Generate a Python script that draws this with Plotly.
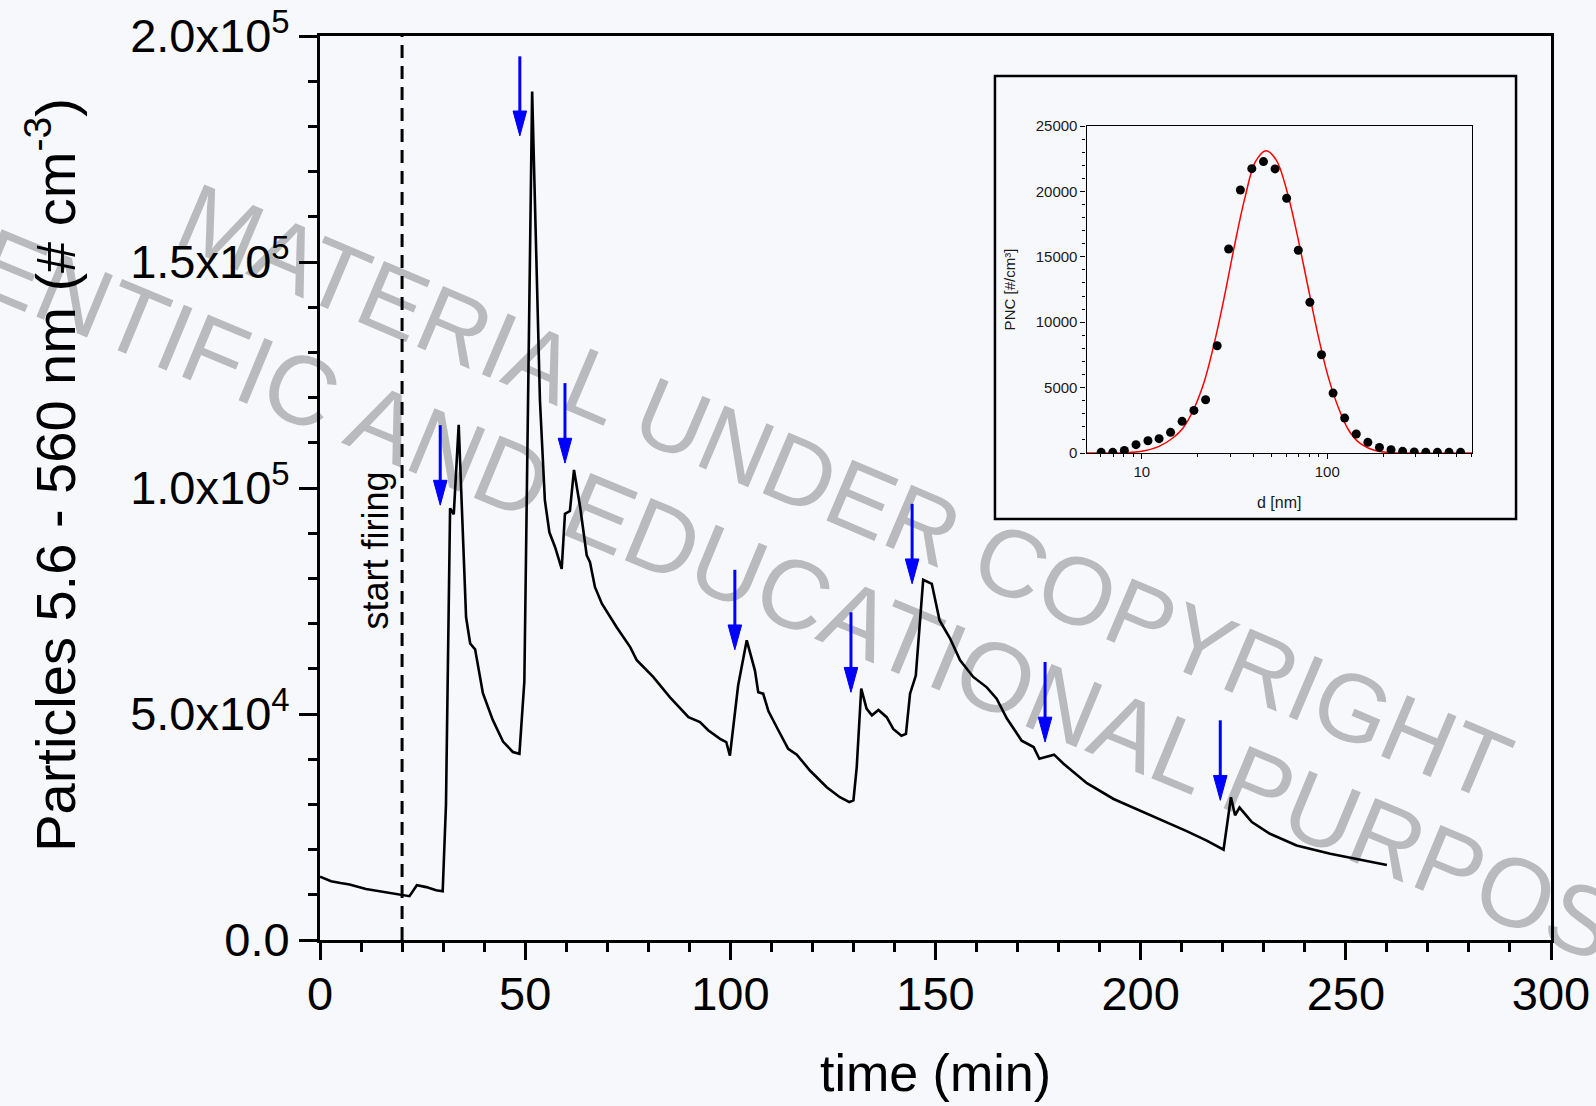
import plotly.graph_objects as go

# ---------------- data: main time series ----------------
time_min = [0, 2.7, 5, 7.2, 11.2, 15.3, 19.3, 21.8, 23.6, 25.9, 28.3, 29.9,
            30.7, 31.7, 32.6, 33.8, 35.6, 36.6, 37.8, 39.7, 42.1, 44.6, 47.0, 48.6,
            49.8, 51.7, 53.6, 54.8, 55.9, 57.3, 58.9, 59.7, 60.9, 61.9, 63.4, 65.0,
            65.8, 67.0, 68.7, 72.3, 75.6, 77.2, 81.2, 85.3, 89.8, 92.6, 94.6, 97.5,
            99.0, 99.9, 101.9, 104.0, 106.0, 106.8, 108.0, 109.3, 111.7, 114.1, 116.2,
            119.4, 123.5, 126.7, 129.0, 130.0, 130.8, 131.9, 133.2, 134.5, 136.1, 138.1,
            139.7, 141.7, 142.8, 143.8, 145.2, 147.0, 149.1, 151.0, 153.5, 156.0, 159.2,
            162.5, 164.9, 167.4, 171.0, 173.9, 175.3, 177.1, 178.9, 181.2, 186.9, 193.4,
            199.0, 205.5, 211.2, 216.1, 220.2, 222.0, 223.0, 224.1, 227.1, 231.5, 238.0,
            246.2, 254.3, 260.0]
particles = [14000, 13000, 12600, 12300, 11300, 10650, 10000, 9700, 12100, 11700, 11000, 10800,
             29900, 95500, 94200, 114000, 71400, 65600, 64300, 54600, 48700, 43900, 41600, 41200,
             57200, 187700, 119400, 97300, 90200, 86900, 82100, 94300, 94900, 104000, 95800, 85100,
             83600, 78100, 74400, 69200, 64800, 61900, 58200, 53700, 49300, 48200, 46400, 44500,
             43800, 40800, 56300, 66300, 59600, 54800, 54500, 50600, 46400, 42300, 41000,
             37500, 33800, 31600, 30500, 30900, 38200, 55600, 51200, 49700, 50900, 49300,
             46700, 45200, 45600, 54500, 58500, 79700, 78800, 70700, 66800, 61900, 58200,
             55900, 53400, 49000, 44100, 42700, 40100, 40500, 41000, 39000, 34700, 31200,
             29000, 26400, 24100, 22000, 20000, 31600, 27600, 29300, 26100, 23500, 20900,
             19100, 17600, 16600]

# blue arrows marking firing events
arrow_time = [29.3, 48.7, 59.7, 101.1, 129.4, 144.3, 176.7, 219.4]
arrow_top = [113900, 195500, 123200, 81900, 72500, 96500, 61500, 48600]
arrow_tip = [96200, 177900, 105500, 64200, 54800, 78800, 43800, 30900]

start_firing_time = 20

x_tick_vals = [0, 50, 100, 150, 200, 250, 300]
y_tick_vals = [0, 50000, 100000, 150000, 200000]
y_tick_text = ["0.0", "5.0x10<sup>4</sup>", "1.0x10<sup>5</sup>",
               "1.5x10<sup>5</sup>", "2.0x10<sup>5</sup>"]

# ---------------- data: inset size distribution ----------------
inset_d = [6.04, 6.98, 8.06, 9.31, 10.8, 12.4, 14.3, 16.5, 19.1, 22.1, 25.5, 29.4,
           34.0, 39.2, 45.3, 52.3, 60.4, 69.8, 80.6, 93.1, 107.5, 124.1, 143.3, 165.5,
           191.1, 220.7, 254.8, 294.3, 339.8, 392.4, 453.2, 523.3]
inset_pnc = [50, 50, 200, 640, 940, 1100, 1580, 2420, 3260, 4070, 8200, 15600,
             20110, 21740, 22280, 21720, 19480, 15500, 11530, 7510, 4580, 2670, 1450, 815,
             430, 250, 130, 80, 50, 50, 50, 50]
fit_d = [5.04, 8.0, 10.0, 12.4, 14.7, 16.7, 19.0, 21.6, 24.6, 27.9, 31.8, 36.1,
         41.0, 46.7, 53.1, 60.4, 68.6, 78.0, 88.7, 101, 115, 130, 148, 176,
         209, 259, 603]
fit_pnc = [0, 20, 130, 510, 1150, 1910, 3310, 5350, 8400, 11970, 16040, 19600,
           22280, 23120, 22400, 20110, 16800, 12980, 9170, 5860, 3440, 1780, 815, 250,
           50, 0, 0]

FONT = "Liberation Sans, Arial, sans-serif"
BG = "#f7f8fc"

fig = go.Figure()

# main curve
fig.add_trace(go.Scatter(x=time_min, y=particles, mode="lines",
                         line=dict(color="black", width=2.6), showlegend=False,
                         hoverinfo="skip"))

# arrows: shafts and heads built from the arrow arrays
head_len = 5500      # in y-data units
head_half = 1.65     # in x-data units
shaft_x, shaft_y, head_x, head_y = [], [], [], []
for t, top, tip in zip(arrow_time, arrow_top, arrow_tip):
    shaft_x += [t, t, None]
    shaft_y += [top, tip + head_len * 0.6, None]
    head_x += [t - head_half, t + head_half, t, t - head_half, None]
    head_y += [tip + head_len, tip + head_len, tip, tip + head_len, None]
fig.add_trace(go.Scatter(x=shaft_x, y=shaft_y, mode="lines",
                         line=dict(color="#0000ff", width=3), showlegend=False,
                         hoverinfo="skip"))
fig.add_trace(go.Scatter(x=head_x, y=head_y, mode="lines", fill="toself",
                         fillcolor="#0000ff", line=dict(color="#0000ff", width=1),
                         showlegend=False, hoverinfo="skip"))

# inset traces
fig.add_trace(go.Scatter(x=fit_d, y=fit_pnc, mode="lines", xaxis="x2", yaxis="y2",
                         line=dict(color="#ff0000", width=1.5, shape="spline", smoothing=1.0),
                         showlegend=False, hoverinfo="skip"))
fig.add_trace(go.Scatter(x=inset_d, y=inset_pnc, mode="markers", xaxis="x2", yaxis="y2",
                         marker=dict(color="black", size=9, symbol="circle"),
                         showlegend=False, hoverinfo="skip"))

# start firing dashed line
fig.add_shape(type="line", xref="x", yref="paper", x0=start_firing_time, x1=start_firing_time,
              y0=0, y1=1, line=dict(color="black", width=3, dash="13px,8px"), layer="above")

fig.add_annotation(x=start_firing_time, xref="x", y=0.431, yref="paper",
                   text="start firing", textangle=-90, showarrow=False, xshift=-27,
                   font=dict(family=FONT, size=36, color="black"))

# y-axis title
fig.add_annotation(x=-0.2177, xref="paper", y=0.5146, yref="paper",
                   text="Particles 5.6 - 560 nm (# cm<sup>-3</sup>)", textangle=-90,
                   showarrow=False, xanchor="center", yanchor="middle",
                   font=dict(family=FONT, size=56, color="black"))

# watermark (below the data)
for txt, cx, cy, ang, size in [("MATERIAL UNDER COPYRIGHT", 0.429, 0.505, 23, 96),
                               ("SCIENTIFIC AND EDUCATIONAL PURPOSES", 0.3777, 0.3982, 22.5, 98)]:
    fig.add_shape(type="rect", xref="paper", yref="paper",
                  x0=cx - 0.005, x1=cx + 0.005, y0=cy - 0.005, y1=cy + 0.005,
                  line=dict(width=0, color="rgba(0,0,0,0)"), fillcolor="rgba(0,0,0,0)",
                  layer="below",
                  label=dict(text=txt, textangle=ang,
                             font=dict(family=FONT, size=size, color="#b9babe"),
                             textposition="middle center"))

# inset frame
fig.add_shape(type="rect", xref="paper", yref="paper",
              x0=0.5483, x1=0.9716, y0=0.4657, y1=0.9558,
              line=dict(color="black", width=2.5), fillcolor="rgba(0,0,0,0)", layer="above")

fig.update_layout(
    width=1596, height=1106,
    margin=dict(l=320, r=45, t=36, b=166, autoexpand=False),
    paper_bgcolor=BG, plot_bgcolor="rgba(0,0,0,0)",
    font=dict(family=FONT, color="black"),
    xaxis=dict(range=[0, 300], tickvals=x_tick_vals, ticks="outside", ticklen=17,
               tickwidth=3, tickcolor="black", showline=True, linewidth=3,
               linecolor="black", mirror=True, showgrid=False, zeroline=False,
               tickfont=dict(family=FONT, size=47, color="black"),
               ticklabelstandoff=-6,
               minor=dict(dtick=10, ticks="outside", ticklen=9, tickwidth=2.5,
                          tickcolor="black", showgrid=False),
               title=dict(text="time (min)", font=dict(family=FONT, size=52, color="black"),
                          standoff=36),
               automargin=False),
    yaxis=dict(range=[0, 200000], tickvals=y_tick_vals, ticktext=y_tick_text,
               ticks="outside", ticklen=18, tickwidth=3, tickcolor="black",
               showline=True, linewidth=3, linecolor="black", mirror=True,
               showgrid=False, zeroline=False,
               tickfont=dict(family=FONT, size=47, color="black"),
               minor=dict(dtick=10000, ticks="outside", ticklen=9, tickwidth=2.5,
                          tickcolor="black", showgrid=False),
               automargin=False),
    xaxis2=dict(type="log", range=[0.7024, 2.780], domain=[0.6227, 0.9358], anchor="y2",
                dtick=1, ticks="outside", ticklen=5, tickwidth=1, tickcolor="black",
                showline=True, linewidth=1.2, linecolor="black", mirror=True,
                showgrid=False, zeroline=False,
                tickfont=dict(family=FONT, size=15, color="#1a1a1a"),
                minor=dict(dtick="D1", ticks="outside", ticklen=3, tickwidth=1,
                           tickcolor="black", showgrid=False),
                title=dict(text="d [nm]", font=dict(family=FONT, size=16, color="#1a1a1a"),
                           standoff=17),
                automargin=False),
    yaxis2=dict(range=[0, 25000], domain=[0.5387, 0.9004], anchor="x2",
                dtick=5000, tickformat="d", ticks="outside", ticklen=5, tickwidth=1,
                tickcolor="black", showline=True, linewidth=1.2, linecolor="black",
                mirror=True, showgrid=False, zeroline=False,
                tickfont=dict(family=FONT, size=15, color="#1a1a1a"),
                minor=dict(dtick=1000, ticks="outside", ticklen=3, tickwidth=1,
                           tickcolor="black", showgrid=False),
                title=dict(text="PNC [#/cm³]", font=dict(family=FONT, size=15, color="#1a1a1a"),
                           standoff=16),
                automargin=False),
)

fig.write_html("out.html")
